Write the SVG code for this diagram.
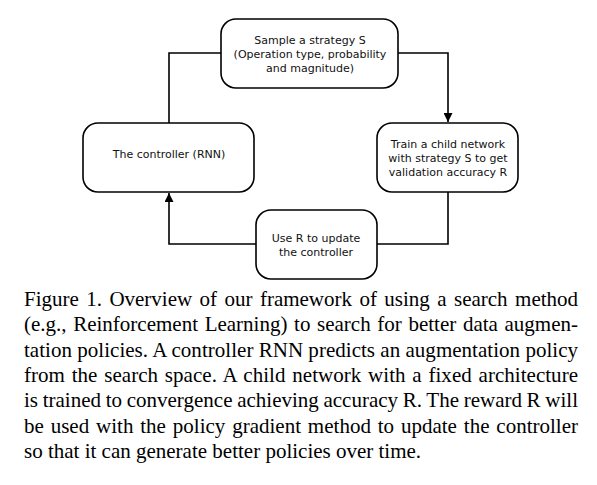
<svg xmlns="http://www.w3.org/2000/svg" width="597" height="485" viewBox="0 0 597 485">
<style>
.box{fill:#fff;stroke:#000;stroke-width:1.6}
.lbl{font-family:"DejaVu Sans",sans-serif;font-size:11px;fill:#111;text-anchor:middle}
.con{fill:none;stroke:#000;stroke-width:1.6}
.cap{font-family:"Liberation Serif",serif;font-size:21px;fill:#000}
</style>
<defs>
<marker id="ah" viewBox="0 0 10 10" refX="10" refY="5" markerWidth="9" markerHeight="9" orient="auto" markerUnits="userSpaceOnUse">
<path d="M0,0 L10,5 L0,10 z" fill="#000"/>
</marker>
</defs>
<rect width="597" height="485" fill="#fff"/>
<g id="connectors">
<path class="con" d="M221,53 H169 V123"/>
<path class="con" d="M398,53 H448 V122" marker-end="url(#ah)"/>
<path class="con" d="M256,244 H169 V193" marker-end="url(#ah)"/>
<path class="con" d="M377,244 H448 V192"/>
</g>
<g id="sample">
<rect class="box" x="221" y="19" width="177" height="69" rx="15"/>
<text class="lbl" x="310" y="44">Sample a strategy S</text>
<text class="lbl" x="310" y="58">(Operation type, probability</text>
<text class="lbl" x="310" y="72">and magnitude)</text>
</g>
<g id="controller">
<rect class="box" x="83" y="123" width="171" height="69" rx="15"/>
<text class="lbl" x="169" y="158">The controller (RNN)</text>
</g>
<g id="train">
<rect class="box" x="377" y="123" width="141" height="69" rx="15"/>
<text class="lbl" x="448" y="148">Train a child network</text>
<text class="lbl" x="448" y="162">with strategy S to get</text>
<text class="lbl" x="448" y="176">validation accuracy R</text>
</g>
<g id="update">
<rect class="box" x="256" y="210" width="121" height="69" rx="15"/>
<text class="lbl" x="316" y="242">Use R to update</text>
<text class="lbl" x="316" y="256">the controller</text>
</g>
<g id="caption">
<text class="cap" x="24" y="306" word-spacing="2.2" textLength="554" lengthAdjust="spacing">Figure 1. Overview of our framework of using a search method</text>
<text class="cap" x="24" y="331.3" word-spacing="1.4" textLength="554" lengthAdjust="spacing">(e.g., Reinforcement Learning) to search for better data augmen-</text>
<text class="cap" x="24" y="356.7" textLength="554" lengthAdjust="spacing">tation policies. A controller RNN predicts an augmentation policy</text>
<text class="cap" x="24" y="382" word-spacing="1.5" textLength="554" lengthAdjust="spacing">from the search space. A child network with a fixed architecture</text>
<text class="cap" x="24" y="407.3" word-spacing="-0.6" textLength="554" lengthAdjust="spacing">is trained to convergence achieving accuracy R. The reward R will</text>
<text class="cap" x="24" y="432.7" word-spacing="1.6" textLength="554" lengthAdjust="spacing">be used with the policy gradient method to update the controller</text>
<text class="cap" x="24" y="458">so that it can generate better policies over time.</text>
</g>
</svg>
